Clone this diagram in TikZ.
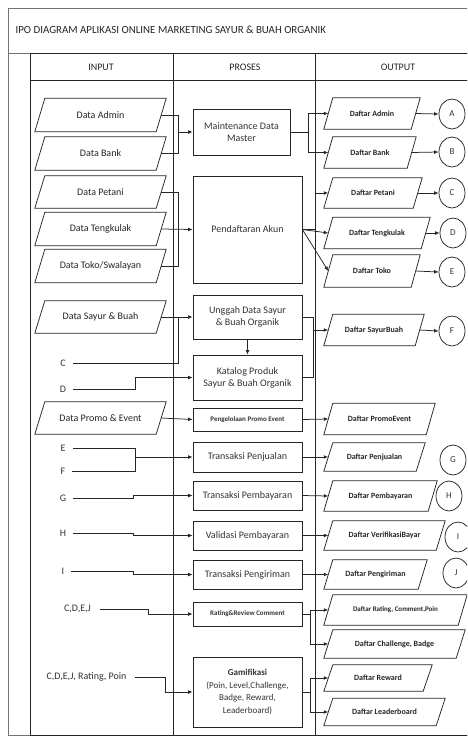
\documentclass[tikz,border=0pt]{standalone}
\usepackage{fontspec}
\setmainfont{Carlito}
\usetikzlibrary{arrows.meta,shapes.geometric}
\newcommand\fs[2]{\fontsize{#1}{#2}\selectfont}
% #1 name, #2 cx, #3 cy, #4 mid width, #5 height, #6 half slant, #7 font, #8 text
\newcommand\pgm[8]{%
  \node[pbody,minimum width=#4,minimum height=#5,font=#7] (#1) at (#2,#3) {#8};
  \draw[ln] ([xshift=#6]#1.north west) -- ([xshift=#6]#1.north east) --
    ([xshift=-#6]#1.south east) -- ([xshift=-#6]#1.south west) -- cycle;}
\begin{document}
\begin{tikzpicture}[x=1pt,y=-1pt,
  ln/.style={draw=black!85,line width=0.75pt},
  frame/.style={draw=black!55,line width=0.9pt},
  arr/.style={ln,-{Latex[length=4.5pt,width=3.8pt]}},
  pbody/.style={inner sep=0pt,align=center,text=black!85},
  proc/.style={ln,align=center,inner sep=1pt,text=black!80,font={\fs{10}{12}}},
  lbl/.style={inner xsep=7pt,inner ysep=1pt,text=black!80,font={\fs{10}{12}}},
  hdr/.style={text=black!85,font={\fs{10}{12}}},
  circ/.style={ln,ellipse,minimum width=26pt,minimum height=30pt,inner sep=0pt,text=black!80,font={\fs{9}{11}}}]
\useasboundingbox (0,0) rectangle (467,737);
\clip (0,0) rectangle (467,737);
\fill[white] (0,0) rectangle (467,737);
% frames
\draw[frame] (8,8) rectangle (495,735);
\draw[frame] (8,53) -- (495,53);
\draw[ln] (30,53) rectangle (495,735);
\draw[ln] (30,80) -- (495,80);
\draw[ln] (173,53) -- (173,735);
\draw[ln] (315,53) -- (315,735);
\node[anchor=west,text=black!85,font={\fs{10.9}{12}}] (title) at (12,30) {IPO DIAGRAM APLIKASI ONLINE MARKETING SAYUR \& BUAH ORGANIK};
\node[hdr] (hin) at (101,67) {INPUT};
\node[hdr] (hpr) at (245,67) {PROSES};
\node[hdr] (hout) at (398,67) {OUTPUT};
% inputs
\def\ifont{\fs{10}{12}}
\pgm{iadmin}{100.5}{115}{121}{33}{5}{\ifont}{Data Admin}
\pgm{ibank}{100.5}{153.5}{121}{33}{5}{\ifont}{Data Bank}
\pgm{ipetani}{100.5}{192}{121}{32}{5}{\ifont}{Data Petani}
\pgm{itengkulak}{100.5}{229}{121}{33}{5}{\ifont}{Data Tengkulak}
\pgm{itoko}{100.5}{266}{121}{33}{5}{\ifont}{Data Toko/Swalayan}
\pgm{isayur}{100.5}{317}{121}{32}{5}{\ifont}{Data Sayur \& Buah}
\pgm{ipromo}{100.5}{418}{121}{32}{5}{\ifont}{Data Promo \& Event}
% labels
\node[lbl] (lc) at (63,363) {C};
\node[lbl] (ld) at (63,389) {D};
\node[lbl] (le) at (63,448) {E};
\node[lbl] (lf) at (63,471) {F};
\node[lbl] (lg) at (63,498) {G};
\node[lbl] (lh) at (63,533) {H};
\node[lbl] (li) at (63,571) {I};
\node[lbl,inner xsep=9pt] (lcdej) at (77.5,609) {C,D,E,J};
\node[lbl,inner xsep=8pt] (lcdejrp) at (86.5,677) {C,D,E,J, Rating, Poin};
% processes
\node[proc,minimum width=97,minimum height=46] (pmaint) at (241.5,132) {Maintenance Data\\Master};
\node[proc,minimum width=109,minimum height=107] (pdaftar) at (247.5,229.5) {Pendaftaran Akun};
\node[proc,minimum width=109,minimum height=44] (punggah) at (247.5,317) {Unggah Data Sayur\\\& Buah Organik};
\node[proc,minimum width=109,minimum height=45] (pkatalog) at (247.5,377.5) {Katalog Produk\\Sayur \& Buah Organik};
\node[proc,minimum width=109,minimum height=23,font={\fs{7}{8}\bfseries}] (ppromo) at (247.5,419.5) {Pengelolaan Promo Event};
\node[proc,minimum width=109,minimum height=30] (pjual) at (247.5,457) {Transaksi Penjualan};
\node[proc,minimum width=109,minimum height=29] (pbayar) at (247.5,495.5) {Transaksi Pembayaran};
\node[proc,minimum width=109,minimum height=29] (pvalid) at (247.5,535.5) {Validasi Pembayaran};
\node[proc,minimum width=109,minimum height=29] (pkirim) at (247.5,574.5) {Transaksi Pengiriman};
\node[proc,minimum width=109,minimum height=24,font={\fs{7}{8}\bfseries}] (prating) at (247.5,614) {Rating\&Review Comment};
\node[proc,minimum width=109,minimum height=70,font={\fs{9}{12.5}}] (pgami) at (247.5,692) {\textbf{Gamifikasi}\\(Poin, Level,Challenge,\\Badge, Reward,\\Leaderboard)};
% outputs
\def\ofont{\fs{8}{10}\bfseries}
\pgm{oadmin}{372}{113.5}{87}{31}{4.5}{\ofont}{Daftar Admin}
\pgm{obank}{370}{152.5}{83}{31}{4.5}{\ofont}{Daftar Bank}
\pgm{opetani}{373}{193}{89}{30}{4.5}{\ofont}{Daftar Petani}
\pgm{otengkulak}{377}{233}{97}{31}{4.5}{\ofont}{Daftar Tengkulak}
\pgm{otoko}{372}{271}{87}{32}{4.5}{\ofont}{Daftar Toko}
\pgm{osayur}{374}{330}{91}{31}{4.5}{\ofont}{Daftar SayurBuah}
\pgm{opromo}{379.5}{419}{102}{31}{4.5}{\ofont}{Daftar PromoEvent}
\pgm{ojual}{374.5}{457}{92}{28}{4.5}{\ofont}{Daftar Penjualan}
\pgm{obayar}{380.5}{496}{104}{30}{4.5}{\ofont}{Daftar Pembayaran}
\pgm{ovalid}{384.5}{535.5}{112}{29}{4.5}{\ofont}{Daftar VerifikasiBayar}
\pgm{okirim}{375.5}{574.5}{94}{29}{4.5}{\ofont}{Daftar Pengiriman}
\pgm{orating}{395.5}{610}{134}{30}{4.5}{\fs{7}{9}\bfseries}{Daftar Rating, Comment,Poin}
\pgm{ochal}{394.5}{644}{132}{28}{4.5}{\ofont}{Daftar Challenge, Badge}
\pgm{oreward}{378}{678}{99}{26}{4.5}{\ofont}{Daftar Reward}
\pgm{oleader}{384.5}{712}{112}{27}{4.5}{\ofont}{Daftar Leaderboard}
% circles
\node[circ] (ca) at (452,114) {A};
\node[circ] (cb) at (452,152) {B};
\node[circ] (cc) at (452,193) {C};
\node[circ] (cd) at (453,233) {D};
\node[circ] (ce) at (452,272) {E};
\node[circ] (cf) at (452,331) {F};
\node[circ] (cg) at (453,460) {G};
\node[circ] (ch) at (449,496) {H};
\node[circ] (ci) at (458,537) {I};
\node[circ] (cj) at (456,573) {J};
% connectors: inputs -> processes
\coordinate (j1) at (178,132);
\draw[ln] (iadmin.east) -| (j1);
\draw[ln] (ibank.east) -| (j1);
\draw[arr] (j1) -- (pmaint.west);
\coordinate (j3) at (178,229.5);
\draw[ln] (ipetani.east) -| (j3);
\draw[ln] (itoko.east) -| (j3);
\draw[arr] (itengkulak.east) -- (pdaftar.west);
\coordinate (j5) at (178,317);
\draw[arr] (isayur.east) -- (punggah.west);
\draw[ln] (lc.east) -| (j5);
\coordinate (j6) at (135,377.5);
\draw[arr] (ld.east) -| (j6) -- (pkatalog.west);
\draw[arr] (punggah.south) -- (pkatalog.north);
\draw[arr] (ipromo.east) -- (ppromo.west);
\coordinate (j10) at (135,457);
\draw[ln] (le.east) -| (j10);
\draw[ln] (lf.east) -| (j10);
\draw[arr] (j10) -- (pjual.west);
\coordinate (j11) at (133,495.5);
\draw[arr] (lg.east) -| (j11) -- (pbayar.west);
\coordinate (j12) at (133,535.5);
\draw[arr] (lh.east) -| (j12) -- (pvalid.west);
\coordinate (j13) at (133,574.5);
\draw[arr] (li.east) -| (j13) -- (pkirim.west);
\coordinate (j14) at (148,614);
\draw[arr] (lcdej.east) -| (j14) -- (prating.west);
\coordinate (j16) at (165,692);
\draw[arr] (lcdejrp.east) -| (j16) -- (pgami.west);
% processes -> outputs
\coordinate (j2) at (308,132);
\draw[ln] (pmaint.east) -- (j2);
\draw[arr] (j2) |- (oadmin.west);
\draw[arr] (j2) |- (obank.west);
\coordinate (j4) at (315,229.5);
\draw[ln] (pdaftar.east) -- (j4);
\draw[arr] (j4) |- (opetani.west);
\draw[arr] (pdaftar.east) -- (otengkulak.west);
\draw[arr] (pdaftar.east) -- (otoko.west);
\coordinate (j8) at (313,330);
\draw[ln] (punggah.east) -| (j8);
\draw[ln] (pkatalog.east) -| (j8);
\draw[arr] (j8) -- (osayur.west);
\draw[arr] (ppromo.east) -- (opromo.west);
\draw[arr] (pjual.east) -- (ojual.west);
\draw[arr] (pbayar.east) -- (obayar.west);
\draw[arr] (pvalid.east) -- (ovalid.west);
\draw[arr] (pkirim.east) -- (okirim.west);
\coordinate (j15) at (310,614);
\draw[ln] (prating.east) -- (j15);
\draw[arr] (j15) |- (orating.west);
\draw[arr] (j15) |- (ochal.west);
\coordinate (j17) at (310,692);
\draw[ln] (pgami.east) -- (j17);
\draw[arr] (j17) |- (oreward.west);
\draw[arr] (j17) |- (oleader.west);
% outputs -> connectors
\draw[arr] (oadmin.east) -- (ca.west);
\draw[arr] (obank.east) -- (cb.west);
\draw[arr] (opetani.east) -- (cc.west);
\draw[arr] (otengkulak.east) -- (cd.west);
\draw[arr] (otoko.east) -- (ce.west);
\draw[arr] (osayur.east) -- (cf.west);
\end{tikzpicture}
\end{document}
